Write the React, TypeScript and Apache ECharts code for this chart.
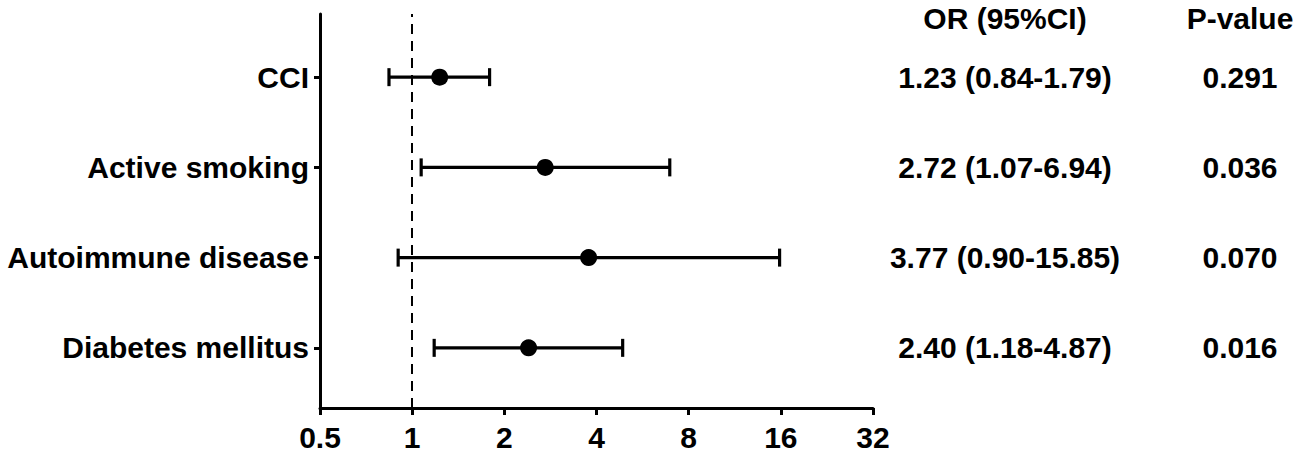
import React, { useEffect, useRef } from "react";
import * as echarts from "echarts";

const categories = ["CCI", "Active smoking", "Autoimmune disease", "Diabetes mellitus"];
const orValues = [1.23, 2.72, 3.77, 2.4];
const ciLow = [0.84, 1.07, 0.9, 1.18];
const ciHigh = [1.79, 6.94, 15.85, 4.87];
const pValues = ["0.291", "0.036", "0.070", "0.016"];
const xTicks = [0.5, 1, 2, 4, 8, 16, 32];
const refLine = 1;

const FONT = "Liberation Sans";
const FS = 30;

export default function App() {
  const ref = useRef<HTMLDivElement>(null);
  useEffect(() => {
    if (!ref.current) return;
    const chart = echarts.init(ref.current, null, { renderer: "svg" });
    const n = categories.length;
    const yPos = categories.map((_, i) => n - i);
    const orText = categories.map(
      (_, i) => `${orValues[i].toFixed(2)} (${ciLow[i].toFixed(2)}-${ciHigh[i].toFixed(2)})`
    );
    const labelStyle = { color: "#000", fontFamily: FONT, fontWeight: "bold" as const, fontSize: FS };
    const idx = (v: number) => n - Math.round(v);
    const yBase = { type: "value" as const, min: 1 / 3, max: 4.7, splitLine: { show: false } };
    chart.setOption({
      animation: false,
      backgroundColor: "#fff",
      grid: { left: 320, right: 426, top: 14, bottom: 45 },
      xAxis: {
        type: "log",
        logBase: 2,
        min: xTicks[0],
        max: xTicks[xTicks.length - 1],
        splitLine: { show: false },
        minorTick: { show: false },
        axisLine: { lineStyle: { color: "#000", width: 3 } },
        axisTick: { show: true, length: 7, lineStyle: { color: "#000", width: 3 } },
        axisLabel: {
          ...labelStyle,
          margin: 14,
          formatter: (v: number) => String(Math.round(v * 100) / 100),
        },
      },
      yAxis: [
        {
          ...yBase,
          position: "left",
          axisLine: { show: true, lineStyle: { color: "#000", width: 3 } },
          axisTick: { show: true, length: 6, customValues: yPos, lineStyle: { color: "#000", width: 3 } },
          axisLabel: { ...labelStyle, margin: 11, customValues: yPos, formatter: (v: number) => categories[idx(v)] },
        },
        {
          ...yBase,
          position: "right",
          offset: 132,
          name: "OR (95%CI)",
          nameLocation: "end",
          nameGap: -4,
          nameTextStyle: { ...labelStyle, align: "center", verticalAlign: "middle" },
          axisLine: { show: false },
          axisTick: { show: false },
          axisLabel: { ...labelStyle, margin: 0, align: "center", customValues: yPos, formatter: (v: number) => orText[idx(v)] },
        },
        {
          ...yBase,
          position: "right",
          offset: 367,
          name: "P-value",
          nameLocation: "end",
          nameGap: -4,
          nameTextStyle: { ...labelStyle, align: "center", verticalAlign: "middle" },
          axisLine: { show: false },
          axisTick: { show: false },
          axisLabel: { ...labelStyle, margin: 0, align: "center", customValues: yPos, formatter: (v: number) => pValues[idx(v)] },
        },
      ],
      series: [
        {
          type: "custom",
          yAxisIndex: 0,
          data: categories.map((_, i) => [ciLow[i], yPos[i], ciHigh[i]]),
          encode: { x: [0, 2], y: 1 },
          renderItem: (params: any, api: any) => {
            const y = api.value(1);
            const p1 = api.coord([api.value(0), y]);
            const p2 = api.coord([api.value(2), y]);
            const h = 9;
            const style = { stroke: "#000", lineWidth: 3.2 };
            return {
              type: "group",
              children: [
                { type: "line", shape: { x1: p1[0], y1: p1[1], x2: p2[0], y2: p2[1] }, style },
                { type: "line", shape: { x1: p1[0], y1: p1[1] - h, x2: p1[0], y2: p1[1] + h }, style },
                { type: "line", shape: { x1: p2[0], y1: p2[1] - h, x2: p2[0], y2: p2[1] + h }, style },
              ],
            };
          },
          z: 2,
        },
        {
          type: "scatter",
          yAxisIndex: 0,
          symbol: "circle",
          symbolSize: 17,
          itemStyle: { color: "#000", opacity: 1 },
          data: categories.map((_, i) => [orValues[i], yPos[i]]),
          z: 3,
          markLine: {
            silent: true,
            symbol: "none",
            label: { show: false },
            lineStyle: { color: "#000", width: 2, type: [10, 7] },
            data: [{ xAxis: refLine }],
          },
        },
      ],
    });
    return () => chart.dispose();
  }, []);
  return (
    <div
      ref={ref}
      style={{ position: "fixed", left: 0, top: 0, width: 1299, height: 453, background: "#fff" }}
    />
  );
}
